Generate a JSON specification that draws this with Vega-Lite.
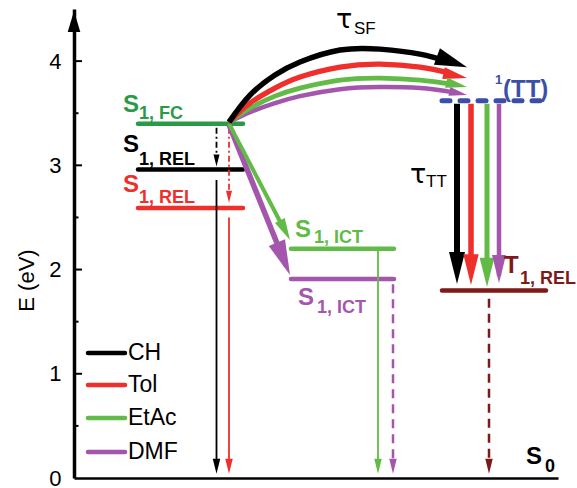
{
  "$schema": "https://vega.github.io/schema/vega-lite/v6.json",
  "width": 484,
  "height": 469,
  "autosize": {"type": "none"},
  "padding": {"left": 74, "top": 9, "right": 19, "bottom": 10},
  "background": "white",
  "config": {"view": {"stroke": null}, "font": "Liberation Sans", "axis": {"grid": false}},
  "encoding": {
    "x": {"field": "x", "type": "quantitative", "scale": {"domain": [0, 484], "nice": false, "zero": false},
      "axis": {"title": null, "labels": false, "ticks": false, "domainColor": "black", "domainWidth": 2.5}},
    "y": {"field": "y", "type": "quantitative", "scale": {"domain": [0, 4.5], "nice": false},
      "axis": {"title": "E (eV)", "values": [0, 1, 2, 3, 4], "ticks": false, "labelPadding": 13, "labelFontSize": 22,
        "labelColor": "black", "format": "d", "domainColor": "black", "domainWidth": 3.5, "titleFontSize": 22,
        "titleFontWeight": "normal", "titleColor": "black", "titlePadding": 10, "titleY": 271}},
    "color": {"field": "c", "type": "nominal", "legend": null,
      "scale": {"domain": ["CH", "Tol", "EtAc", "DMF", "FC", "TT", "T1"],
        "range": ["#000000", "#EE2F2B", "#62BB46", "#A456AD", "#2A9A47", "#3B4FA8", "#7D1919"]}}
  },
  "resolve": {"scale": {"size": "independent", "strokeWidth": "independent"}},
  "layer": [
    {"data": {"values": [{"x": 0, "y": 1, "c": "CH"}, {"x": 0, "y": 2, "c": "CH"}, {"x": 0, "y": 3, "c": "CH"}, {"x": 0, "y": 4, "c": "CH"}]},
      "mark": {"type": "rule", "strokeWidth": 2}, "encoding": {"x2": {"datum": 8}}},
    {"data": {"values": [{"x": 0, "y": 0.5, "c": "CH"}, {"x": 0, "y": 1.5, "c": "CH"}, {"x": 0, "y": 2.5, "c": "CH"}, {"x": 0, "y": 3.5, "c": "CH"}]},
      "mark": {"type": "rule", "strokeWidth": 2}, "encoding": {"x2": {"datum": 4.5}}},
    {"data": {"values": [{"x": 0, "y": 4.48, "c": "CH"}]},
      "mark": {"type": "point", "shape": "M0,0L-0.6,2L0.6,2Z", "size": 441, "filled": true, "opacity": 1, "strokeWidth": 0}},
    {"data": {"values": [
        {"x": 64, "x2": 169, "y": 3.40, "c": "FC"},
        {"x": 64, "x2": 169, "y": 2.96, "c": "CH"},
        {"x": 64, "x2": 169, "y": 2.59, "c": "Tol"},
        {"x": 217, "x2": 320, "y": 2.20, "c": "EtAc"},
        {"x": 217, "x2": 320, "y": 1.91, "c": "DMF"},
        {"x": 368, "x2": 472, "y": 1.80, "c": "T1"}]},
      "mark": {"type": "rule", "strokeWidth": 4.5, "strokeCap": "round"}, "encoding": {"x2": {"field": "x2"}}},
    {"data": {"values": [{"x": 368, "x2": 472, "y": 3.62, "c": "TT"}]},
      "mark": {"type": "rule", "strokeWidth": 5, "strokeCap": "round", "strokeDash": [8, 10]}, "encoding": {"x2": {"field": "x2"}}},
    {"data": {"values": [
        {"x": 142.5, "y": 2.86, "y2": 0.12, "c": "CH"},
        {"x": 155, "y": 2.50, "y2": 0.12, "c": "Tol"},
        {"x": 304, "y": 2.18, "y2": 0.12, "c": "EtAc"}]},
      "mark": {"type": "rule", "strokeWidth": 1.8}, "encoding": {"y2": {"field": "y2"}}},
    {"data": {"values": [
        {"x": 319, "y": 1.86, "y2": 0.12, "c": "DMF"},
        {"x": 415, "y": 1.72, "y2": 0.12, "c": "T1"}]},
      "mark": {"type": "rule", "strokeWidth": 2.5, "strokeDash": [9, 6]}, "encoding": {"y2": {"field": "y2"}}},
    {"data": {"values": [
        {"x": 142.5, "y": 0.04, "c": "CH"}, {"x": 155, "y": 0.04, "c": "Tol"}, {"x": 304, "y": 0.04, "c": "EtAc"},
        {"x": 319, "y": 0.04, "c": "DMF"}, {"x": 415, "y": 0.04, "c": "T1"}]},
      "mark": {"type": "point", "shape": "M0,0L-0.5,-2L0.5,-2Z", "size": 225, "filled": true, "opacity": 1, "strokeWidth": 0}},
    {"data": {"values": [
        {"x": 142.5, "y": 3.36, "y2": 3.08, "c": "CH"},
        {"x": 155, "y": 3.36, "y2": 2.73, "c": "Tol"}]},
      "mark": {"type": "rule", "strokeWidth": 1.8, "strokeDash": [6, 3, 2, 3]}, "encoding": {"y2": {"field": "y2"}}},
    {"data": {"values": [{"x": 142.5, "y": 2.99, "c": "CH"}, {"x": 155, "y": 2.64, "c": "Tol"}]},
      "mark": {"type": "point", "shape": "M0,0L-0.5,-2L0.5,-2Z", "size": 144, "filled": true, "opacity": 1, "strokeWidth": 0}},
    {"data": {"values": [
        {"x": 155, "y": 3.39, "x2": 212, "y2": 2.04, "c": "DMF"},
        {"x": 155, "y": 3.40, "x2": 211, "y2": 2.37, "c": "EtAc"}]},
      "mark": {"type": "rule"},
      "encoding": {"x2": {"field": "x2"}, "y2": {"field": "y2"},
        "strokeWidth": {"field": "c", "type": "nominal", "legend": null, "scale": {"domain": ["EtAc", "DMF"], "range": [4, 5.5]}}}},
    {"data": {"values": [{"x": 216, "y": 2.283, "c": "EtAc"}]},
      "mark": {"type": "point", "shape": "M0,0L-0.5,-2L0.5,-2Z", "size": 484, "angle": -27.5, "filled": true, "opacity": 1, "strokeWidth": 0}},
    {"data": {"values": [{"x": 216, "y": 1.947, "c": "DMF"}]},
      "mark": {"type": "point", "shape": "M0,0L-0.5,-2L0.5,-2Z", "size": 1225, "angle": -22, "filled": true, "opacity": 1, "strokeWidth": 0}},
    {"data": {"values": [
        {"x": 155, "y": 3.415, "c": "DMF"}, {"x": 176, "y": 3.511, "c": "DMF"}, {"x": 201, "y": 3.597, "c": "DMF"}, {"x": 226, "y": 3.664, "c": "DMF"}, {"x": 266, "y": 3.731, "c": "DMF"}, {"x": 306, "y": 3.751, "c": "DMF"}, {"x": 346, "y": 3.741, "c": "DMF"}, {"x": 380, "y": 3.70, "c": "DMF"},
        {"x": 155, "y": 3.415, "c": "EtAc"}, {"x": 176, "y": 3.549, "c": "EtAc"}, {"x": 201, "y": 3.664, "c": "EtAc"}, {"x": 226, "y": 3.741, "c": "EtAc"}, {"x": 266, "y": 3.818, "c": "EtAc"}, {"x": 306, "y": 3.837, "c": "EtAc"}, {"x": 346, "y": 3.818, "c": "EtAc"}, {"x": 378, "y": 3.779, "c": "EtAc"},
        {"x": 155, "y": 3.415, "c": "Tol"}, {"x": 176, "y": 3.597, "c": "Tol"}, {"x": 201, "y": 3.741, "c": "Tol"}, {"x": 226, "y": 3.847, "c": "Tol"}, {"x": 266, "y": 3.942, "c": "Tol"}, {"x": 306, "y": 3.971, "c": "Tol"}, {"x": 346, "y": 3.942, "c": "Tol"}, {"x": 376, "y": 3.885, "c": "Tol"},
        {"x": 155, "y": 3.415, "c": "CH"}, {"x": 176, "y": 3.674, "c": "CH"}, {"x": 201, "y": 3.866, "c": "CH"}, {"x": 226, "y": 3.991, "c": "CH"}, {"x": 266, "y": 4.106, "c": "CH"}, {"x": 306, "y": 4.115, "c": "CH"}, {"x": 346, "y": 4.067, "c": "CH"}, {"x": 374, "y": 3.995, "c": "CH"}]},
      "mark": {"type": "line", "interpolate": "natural"},
      "encoding": {"strokeWidth": {"field": "c", "type": "nominal", "legend": null, "scale": {"domain": ["CH", "Tol", "EtAc", "DMF"], "range": [5.5, 4.5, 3, 1.6]}}}},
    {"data": {"values": [{"x": 393, "y": 3.94, "c": "CH"}]},
      "mark": {"type": "point", "shape": "M0,0L-0.55,-2L0.55,-2Z", "size": 1024, "angle": -70, "filled": true, "opacity": 1, "strokeWidth": 0}},
    {"data": {"values": [{"x": 393, "y": 3.837, "c": "Tol"}, {"x": 393, "y": 3.751, "c": "EtAc"}, {"x": 393, "y": 3.674, "c": "DMF"}]},
      "mark": {"type": "point", "shape": "M0,0L-0.5,-2L0.5,-2Z", "angle": -78, "filled": true, "opacity": 1, "strokeWidth": 0},
      "encoding": {"size": {"field": "c", "type": "nominal", "legend": null, "scale": {"domain": ["Tol", "EtAc", "DMF"], "range": [576, 324, 144]}}}},
    {"data": {"values": [
        {"x": 383, "y": 3.59, "y2": 2.043, "c": "CH"},
        {"x": 397, "y": 3.59, "y2": 2.03, "c": "Tol"},
        {"x": 413, "y": 3.59, "y2": 1.938, "c": "EtAc"},
        {"x": 425, "y": 3.59, "y2": 1.938, "c": "DMF"}]},
      "mark": {"type": "rule"},
      "encoding": {"y2": {"field": "y2"}, "strokeWidth": {"field": "c", "type": "nominal", "legend": null, "scale": {"domain": ["CH", "Tol", "EtAc", "DMF"], "range": [6, 4.5, 3, 1.6]}}}},
    {"data": {"values": [{"x": 383, "y": 1.861, "c": "CH"}, {"x": 397, "y": 1.851, "c": "Tol"}, {"x": 413, "y": 1.832, "c": "EtAc"}, {"x": 425, "y": 1.871, "c": "DMF"}]},
      "mark": {"type": "point", "shape": "M0,0L-0.5,-2L0.5,-2Z", "filled": true, "opacity": 1, "strokeWidth": 0},
      "encoding": {"size": {"field": "c", "type": "nominal", "legend": null, "scale": {"domain": ["CH", "Tol", "EtAc", "DMF"], "range": [1024, 784, 576, 225]}}}},
    {"data": {"values": [
        {"x": 49, "y": 3.511, "t": "S", "c": "FC"},
        {"x": 49, "y": 3.127, "t": "S", "c": "CH"},
        {"x": 49, "y": 2.743, "t": "S", "c": "Tol"},
        {"x": 221, "y": 2.312, "t": "S", "c": "EtAc"},
        {"x": 224, "y": 1.659, "t": "S", "c": "DMF"},
        {"x": 430, "y": 1.966, "t": "T", "c": "T1"},
        {"x": 429, "y": 3.655, "t": "(TT)", "c": "TT"},
        {"x": 452, "y": 0.134, "t": "S", "c": "CH"}]},
      "mark": {"type": "text", "align": "left", "baseline": "alphabetic", "fontSize": 24, "fontWeight": "bold"},
      "encoding": {"text": {"field": "t"}}},
    {"data": {"values": [
        {"x": 65, "y": 3.444, "t": "1, FC", "c": "FC"},
        {"x": 65, "y": 3.002, "t": "1, REL", "c": "CH"},
        {"x": 65, "y": 2.638, "t": "1, REL", "c": "Tol"},
        {"x": 240, "y": 2.254, "t": "1, ICT", "c": "EtAc"},
        {"x": 243, "y": 1.583, "t": "1, ICT", "c": "DMF"},
        {"x": 446, "y": 1.861, "t": "1, REL", "c": "T1"},
        {"x": 471, "y": 0.058, "t": "0", "c": "CH"}]},
      "mark": {"type": "text", "align": "left", "baseline": "alphabetic", "fontSize": 18, "fontWeight": "bold"},
      "encoding": {"text": {"field": "t"}}},
    {"data": {"values": [{"x": 262, "y": 4.317, "t": "τ", "c": "CH"}, {"x": 336, "y": 2.83, "t": "τ", "c": "CH"}]},
      "mark": {"type": "text", "align": "left", "baseline": "alphabetic", "fontSize": 27, "font": "DejaVu Sans"},
      "encoding": {"text": {"field": "t"}}},
    {"data": {"values": [{"x": 280, "y": 4.259, "t": "SF", "c": "CH"}, {"x": 352, "y": 2.791, "t": "TT", "c": "CH"}]},
      "mark": {"type": "text", "align": "left", "baseline": "alphabetic", "fontSize": 17},
      "encoding": {"text": {"field": "t"}}},
    {"data": {"values": [{"x": 421, "y": 3.779, "t": "1", "c": "TT"}]},
      "mark": {"type": "text", "align": "left", "baseline": "alphabetic", "fontSize": 13, "fontWeight": "bold"},
      "encoding": {"text": {"field": "t"}}},
    {"data": {"values": [
        {"x": 14, "x2": 51, "y": 1.199, "c": "CH"},
        {"x": 14, "x2": 51, "y": 0.892, "c": "Tol"},
        {"x": 14, "x2": 51, "y": 0.576, "c": "EtAc"},
        {"x": 14, "x2": 51, "y": 0.249, "c": "DMF"}]},
      "mark": {"type": "rule", "strokeWidth": 4.5, "strokeCap": "round"}, "encoding": {"x2": {"field": "x2"}}},
    {"data": {"values": [
        {"x": 54, "y": 1.199, "t": "CH", "c": "CH"},
        {"x": 54, "y": 0.892, "t": "Tol", "c": "CH"},
        {"x": 54, "y": 0.576, "t": "EtAc", "c": "CH"},
        {"x": 54, "y": 0.249, "t": "DMF", "c": "CH"}]},
      "mark": {"type": "text", "align": "left", "baseline": "middle", "fontSize": 23},
      "encoding": {"text": {"field": "t"}}}
  ]
}
